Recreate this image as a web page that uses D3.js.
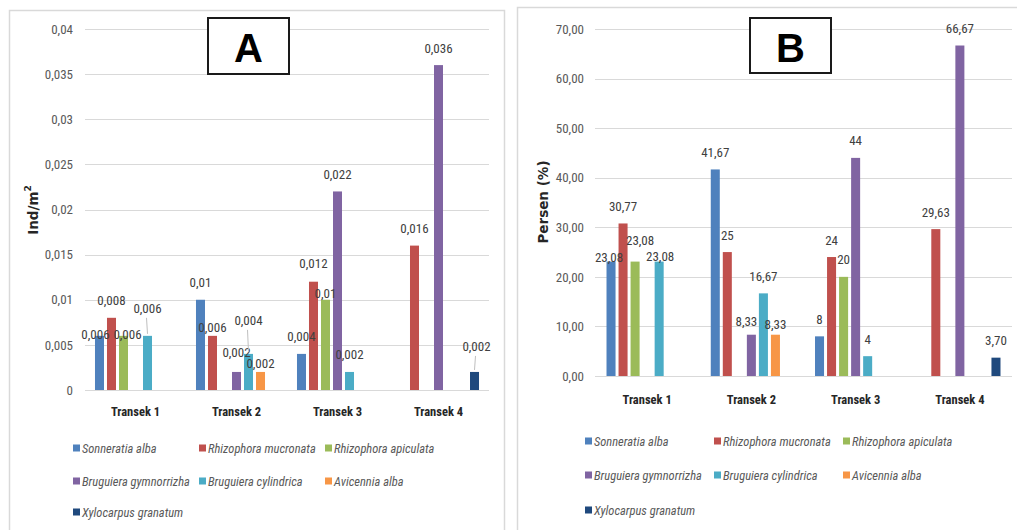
<!DOCTYPE html>
<html>
<head>
<meta charset="utf-8">
<script src="https://cdn.jsdelivr.net/npm/d3@7"></script>
<style>
  html, body { margin: 0; padding: 0; background: #fff; }
  svg { display: block; }
  .narrow { font-family: "Liberation Sans Narrow", "Arial Narrow", "Roboto Condensed", Roboto, sans-serif; }
</style>
</head>
<body>
<svg id="chart" width="1017" height="530"></svg>
<script>
// Transects along the x axis
const categories = ["Transek 1", "Transek 2", "Transek 3", "Transek 4"];

// Mangrove species (series), in legend order
const species = [
  "Sonneratia alba",
  "Rhizophora mucronata",
  "Rhizophora apiculata",
  "Bruguiera gymnorrizha",
  "Bruguiera cylindrica",
  "Avicennia alba",
  "Xylocarpus granatum"
];
const speciesColors = ["#4F81BD", "#C0504D", "#9BBB59", "#8064A2", "#4BACC6", "#F79646", "#1F497D"];

// Panel A: density (Ind/m²) per transect, written as labelled
const densSonneratia  = ["0,006", "0,01",  "0,004", null];
const densMucronata   = ["0,008", "0,006", "0,012", "0,016"];
const densApiculata   = ["0,006", null,    "0,01",  null];
const densGymnorrizha = [null,    "0,002", "0,022", "0,036"];
const densCylindrica  = ["0,006", "0,004", "0,002", null];
const densAvicennia   = [null,    "0,002", null,    null];
const densXylocarpus  = [null,    null,    null,    "0,002"];

// Panel B: relative share (%) per transect, written as labelled
const pctSonneratia  = ["23,08", "41,67", "8",  null];
const pctMucronata   = ["30,77", "25",    "24", "29,63"];
const pctApiculata   = ["23,08", null,    "20", null];
const pctGymnorrizha = [null,    "8,33",  "44", "66,67"];
const pctCylindrica  = ["23,08", "16,67", "4",  null];
const pctAvicennia   = [null,    "8,33",  null, null];
const pctXylocarpus  = [null,    null,    null, "3,70"];

// Axis tick labels
const ticksA = ["0", "0,005", "0,01", "0,015", "0,02", "0,025", "0,03", "0,035", "0,04"];
const ticksB = ["0,00", "10,00", "20,00", "30,00", "40,00", "50,00", "60,00", "70,00"];

const parseNum = s => +String(s).replace(",", ".");

// Label offsets (dx, dy) where labels are pushed aside, and labels with leader lines
const nudgeA = {
  "0|0": [-4, 16], "2|0": [4, 16], "4|0": [0, -10],
  "1|1": [0, 9], "3|1": [0, -2], "4|1": [0, -16], "5|1": [0, 9],
  "1|2": [0, -1], "2|2": [0, 11],
  "6|3": [2, -8]
};
const leaderA = new Set(["4|0", "4|1", "6|3"]);
const nudgeB = {
  "0|0": [-2, 13], "2|0": [5, -4], "4|0": [1, 12],
  "3|1": [-5, 4], "5|1": [0, 7]
};
const leaderB = new Set();

const svg = d3.select("#chart");

function drawPanel(cfg) {
  const g = svg.append("g");

  // panel frame
  g.append("path")
    .attr("d", cfg.frame)
    .attr("fill", "none")
    .attr("stroke", "#d9d9d9")
    .attr("stroke-width", 1.5);

  const y = d3.scaleLinear().domain([0, cfg.yMax]).range([cfg.y0, cfg.yTop]);
  const x0 = d3.scaleBand().domain(categories).range([cfg.xLeft, cfg.xRight]);
  const bw = x0.bandwidth();
  const x1 = d3.scaleBand().domain(d3.range(species.length))
    .range([bw * cfg.groupPad, bw * (1 - cfg.groupPad)])
    .paddingInner(0.25).paddingOuter(0.125);

  // gridlines
  const tickVals = cfg.ticks.map(parseNum);
  g.append("g").selectAll("line").data(tickVals).join("line")
    .attr("x1", cfg.xLeft).attr("x2", cfg.xRight)
    .attr("y1", d => Math.round(y(d)) + 0.5).attr("y2", d => Math.round(y(d)) + 0.5)
    .attr("stroke", "#d9d9d9").attr("stroke-width", 1);

  // y axis tick labels
  const yAxis = d3.axisLeft(y).tickValues(tickVals)
    .tickFormat((d, i) => cfg.ticks[i]).tickSize(0).tickPadding(0);
  const ya = g.append("g").attr("transform", `translate(${cfg.tickRight},0)`).call(yAxis);
  ya.select(".domain").remove();
  ya.selectAll("text").attr("class", "narrow").attr("font-size", 13).attr("fill", "#595959");

  // x axis category labels
  const xAxis = d3.axisBottom(x0).tickSize(0).tickPadding(0);
  const xa = g.append("g").attr("transform", `translate(0,${cfg.catY})`).call(xAxis);
  xa.select(".domain").remove();
  xa.selectAll("text").attr("class", "narrow").attr("font-size", 12.5)
    .attr("font-weight", "bold").attr("fill", "#262626").attr("dy", "0.35em");

  // y axis title
  const title = g.append("text")
    .attr("transform", `translate(${cfg.yTitleX},${cfg.yTitleY}) rotate(-90)`)
    .attr("text-anchor", "middle").attr("dominant-baseline", "central")
    .attr("font-family", "DejaVu Sans, sans-serif").attr("font-weight", "bold")
    .attr("font-size", 13.5).attr("fill", "#262626");
  cfg.yTitle(title);

  // bars
  const bars = [];
  cfg.series.forEach((vals, s) => {
    vals.forEach((v, c) => {
      if (v == null) return;
      bars.push({ s, c, label: v, value: parseNum(v) });
    });
  });

  g.append("g").selectAll("rect").data(bars).join("rect")
    .attr("x", d => x0(categories[d.c]) + x1(d.s))
    .attr("width", x1.bandwidth())
    .attr("y", d => y(d.value))
    .attr("height", d => cfg.y0 - y(d.value))
    .attr("fill", d => speciesColors[d.s]);

  // data labels
  const lab = g.append("g");
  bars.forEach(d => {
    const key = d.s + "|" + d.c;
    const n = cfg.nudge[key] || [0, 0];
    const bx = x0(categories[d.c]) + x1(d.s) + x1.bandwidth() / 2;
    const top = y(d.value);
    const lx = bx + n[0];
    const ly = top - 17 + n[1];
    if (cfg.leader.has(key)) {
      lab.append("line")
        .attr("x1", lx - 1).attr("y1", ly + 9)
        .attr("x2", bx).attr("y2", top - 2)
        .attr("stroke", "#bfbfbf").attr("stroke-width", 1);
    }
    lab.append("text")
      .attr("class", "narrow")
      .attr("x", lx).attr("y", ly)
      .attr("text-anchor", "middle").attr("dominant-baseline", "central")
      .attr("font-size", 13).attr("fill", "#404040")
      .text(d.label);
  });

  // panel letter box
  g.append("rect")
    .attr("x", cfg.box[0]).attr("y", cfg.box[1])
    .attr("width", cfg.box[2]).attr("height", cfg.box[3])
    .attr("fill", "#fff").attr("stroke", "#1a1a1a").attr("stroke-width", 2);
  g.append("text")
    .attr("x", cfg.box[0] + cfg.box[2] / 2).attr("y", cfg.box[1] + cfg.box[3] / 2 + 2)
    .attr("text-anchor", "middle").attr("dominant-baseline", "central")
    .attr("font-family", "Liberation Sans, Arial, sans-serif").attr("font-weight", "bold")
    .attr("font-size", 40).attr("fill", "#000")
    .text(cfg.letter);

  // legend, three entries per row
  const leg = g.append("g");
  species.forEach((name, i) => {
    const col = i % 3, row = Math.floor(i / 3);
    const lx = cfg.legCols[col], ly = cfg.legRows[row];
    leg.append("rect")
      .attr("x", lx).attr("y", ly - 3.5).attr("width", 7).attr("height", 7)
      .attr("fill", speciesColors[i]);
    leg.append("text")
      .attr("class", "narrow")
      .attr("x", lx + 9).attr("y", ly)
      .attr("dominant-baseline", "central")
      .attr("font-size", 12.5).attr("font-style", "italic").attr("fill", "#595959")
      .text(name);
  });
}

drawPanel({
  letter: "A",
  frame: "M9.5,540 V10.5 H504.5 V540",
  yMax: 0.04, y0: 390, yTop: 29,
  xLeft: 85, xRight: 489, groupPad: 0.084,
  ticks: ticksA, tickRight: 73,
  catY: 412,
  yTitleX: 33, yTitleY: 210,
  yTitle: t => { t.append("tspan").text("Ind/m"); t.append("tspan").attr("font-size", 9).attr("dy", -5).text("2"); },
  series: [densSonneratia, densMucronata, densApiculata, densGymnorrizha, densCylindrica, densAvicennia, densXylocarpus],
  nudge: nudgeA, leader: leaderA,
  box: [208, 18, 81, 56],
  legCols: [73, 199, 325], legRows: [448, 481, 512]
});

drawPanel({
  letter: "B",
  frame: "M517.5,540 V7.5 H1030",
  yMax: 70, y0: 376, yTop: 29,
  xLeft: 595, xRight: 1012, groupPad: 0.096,
  ticks: ticksB, tickRight: 584,
  catY: 400,
  yTitleX: 543, yTitleY: 202,
  yTitle: t => t.text("Persen (%)"),
  series: [pctSonneratia, pctMucronata, pctApiculata, pctGymnorrizha, pctCylindrica, pctAvicennia, pctXylocarpus],
  nudge: nudgeB, leader: leaderB,
  box: [750, 18, 81, 55],
  legCols: [585, 714, 843], legRows: [441, 475, 510]
});
</script>
</body>
</html>
